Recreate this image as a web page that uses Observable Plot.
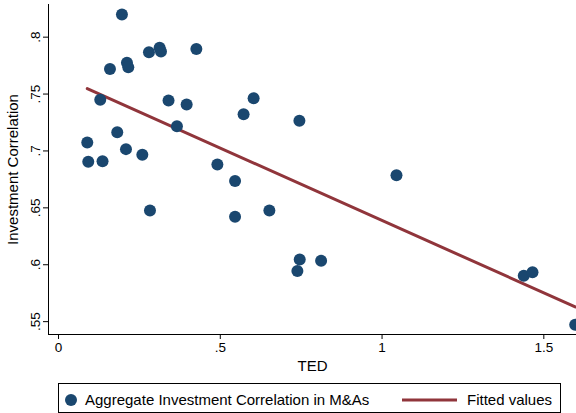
<!DOCTYPE html>
<html><head><meta charset="utf-8">
<script src="https://cdn.jsdelivr.net/npm/d3@7"></script>
<script src="https://cdn.jsdelivr.net/npm/@observablehq/plot@0.6"></script>
<style>
body{margin:0;background:#fff;font-family:"Liberation Sans",Arial,sans-serif}
#chart svg{display:block}
</style>
</head><body><div id="chart"></div><div id="legend"></div><script>
const ted  = [0.196,0.159,0.2115,0.2156,0.2795,0.3125,0.3167,0.426,0.129,0.340,0.396,0.366,0.572,0.603,0.7445,0.0888,0.0919,0.136,0.1815,0.2085,0.259,0.491,0.5456,1.0446,0.2827,0.5456,0.6517,0.7455,0.7383,0.8116,1.438,1.465,1.597];
const corr = [0.820,0.772,0.7775,0.7736,0.7868,0.7907,0.7874,0.7895,0.745,0.7444,0.7409,0.7218,0.7323,0.7464,0.7265,0.7075,0.6905,0.691,0.7165,0.7016,0.6967,0.6881,0.6735,0.6787,0.6477,0.6422,0.6477,0.6047,0.5944,0.6035,0.5903,0.5935,0.5473];
const xTicks = [0, 0.5, 1, 1.5];
const xTickLabels = ["0", ".5", "1", "1.5"];
const yTicks = [0.55, 0.6, 0.65, 0.7, 0.75, 0.8];
const yTickLabels = [".55", ".6", ".65", ".7", ".75", ".8"];
const seriesNames = ["Aggregate Investment Correlation in M&As", "Fitted values"];
const xTitle = "TED";
const yTitle = "Investment Correlation";

const points = ted.map((x, i) => ({x, y: corr[i]}));
// OLS fit
const mx = d3.mean(ted), my = d3.mean(corr);
const b = d3.sum(points, d => (d.x - mx) * (d.y - my)) / d3.sum(points, d => (d.x - mx) ** 2);
const a = my - b * mx;
const [xmin, xmax] = d3.extent(ted);
const fit = [xmin, xmax].map(x => ({x, y: a + b * x}));

const navy = "#1a476f", maroon = "#90353b";
const xDomain = [-0.031, 1.601], yDomain = [0.5387, 0.8287];

const chart = Plot.plot({
  width: 576, height: 378,
  marginLeft: 48, marginRight: 0, marginTop: 4, marginBottom: 44,
  style: {fontFamily: '"Liberation Sans", Arial, sans-serif', fontSize: "13px", color: "#000", background: "#fff"},
  x: {domain: xDomain},
  y: {domain: yDomain},
  marks: [
    Plot.ruleX([xDomain[0]], {stroke: "#000", strokeWidth: 1}),
    Plot.ruleY([yDomain[0]], {stroke: "#000", strokeWidth: 1}),
    Plot.axisX({ticks: xTicks, tickFormat: d => xTickLabels[xTicks.indexOf(d)], tickSize: 5, tickPadding: 3,
      label: null, fontSize: 13.5}),
    Plot.text([xTitle], {frameAnchor: "bottom", dy: 36, text: d => d, fontSize: 15, textAnchor: "middle"}),
    Plot.axisY({ticks: yTicks, tickFormat: d => yTickLabels[yTicks.findIndex(t => Math.abs(t - d) < 1e-9)], tickSize: 5, tickPadding: 4,
      tickRotate: -90, label: null, fontSize: 13.5}),
    Plot.text([yTitle], {frameAnchor: "left", dx: -35, rotate: -90, text: d => d, fontSize: 15, textAnchor: "middle"}),
    Plot.line(fit, {x: "x", y: "y", stroke: maroon, strokeWidth: 3}),
    Plot.dot(points, {x: "x", y: "y", r: 6, fill: navy, stroke: "none"})
  ]
});
document.getElementById("chart").append(chart);

// Legend
const lg = d3.select("#legend").append("svg").attr("width", 576).attr("height", 35)
  .style("display", "block").style("font-family", '"Liberation Sans", Arial, sans-serif');
lg.append("rect").attr("x", 58.5).attr("y", 5.5).attr("width", 502).attr("height", 29)
  .attr("fill", "#fff").attr("stroke", "#000").attr("stroke-width", 1);
lg.append("circle").attr("cx", 71).attr("cy", 22).attr("r", 6).attr("fill", navy);
lg.append("text").attr("x", 85).attr("y", 27).attr("font-size", 15).text(seriesNames[0]);
lg.append("line").attr("x1", 402).attr("x2", 457).attr("y1", 22).attr("y2", 22).attr("stroke", maroon).attr("stroke-width", 3);
lg.append("text").attr("x", 467).attr("y", 27).attr("font-size", 15).text(seriesNames[1]);
</script></body></html>
